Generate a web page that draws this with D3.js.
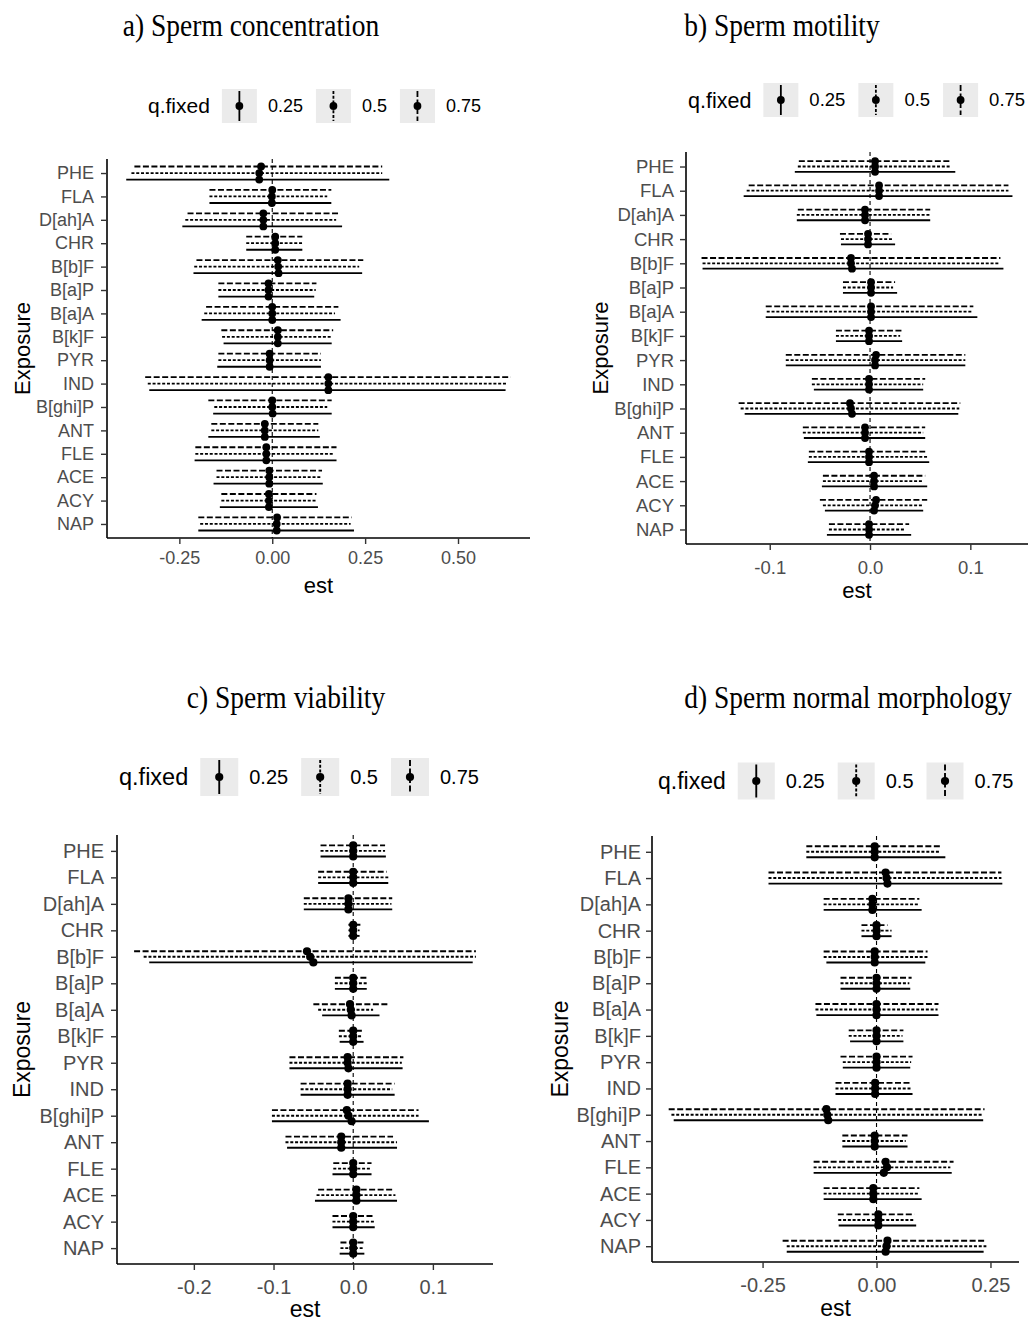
<!DOCTYPE html>
<html>
<head>
<meta charset="utf-8">
<script src="https://cdn.jsdelivr.net/npm/d3@7"></script>
<style>
  body { margin: 0; background: #fff; }
  svg { display: block; }
</style>
</head>
<body>
<svg id="chart" width="1028" height="1323"></svg>
<script>
// Exposures, listed from the top row of each panel to the bottom row
const exposures = ["PHE", "FLA", "D[ah]A", "CHR", "B[b]F", "B[a]P", "B[a]A", "B[k]F",
                   "PYR", "IND", "B[ghi]P", "ANT", "FLE", "ACE", "ACY", "NAP"];
const quantiles = ["0.25", "0.5", "0.75"];

// Each row: [lower, estimate, upper]

// a) Sperm concentration
const concQ25 = [[-0.393,-0.035,0.315],[-0.169,-0.001,0.159],[-0.242,-0.024,0.188],[-0.070,0.008,0.081],
                 [-0.212,0.017,0.242],[-0.145,-0.010,0.113],[-0.190,0.000,0.184],[-0.131,0.015,0.160],
                 [-0.148,-0.007,0.131],[-0.331,0.151,0.628],[-0.159,0.001,0.160],[-0.172,-0.020,0.128],
                 [-0.209,-0.016,0.173],[-0.158,-0.008,0.136],[-0.141,-0.009,0.123],[-0.199,0.012,0.220]];
const concQ50 = [[-0.379,-0.035,0.296],[-0.169,-0.001,0.148],[-0.234,-0.024,0.172],[-0.070,0.008,0.081],
                 [-0.210,0.016,0.234],[-0.145,-0.010,0.117],[-0.183,0.000,0.169],[-0.135,0.015,0.160],
                 [-0.145,-0.007,0.131],[-0.335,0.151,0.632],[-0.156,0.000,0.148],[-0.164,-0.020,0.124],
                 [-0.207,-0.016,0.167],[-0.150,-0.008,0.132],[-0.137,-0.009,0.119],[-0.194,0.012,0.211]];
const concQ75 = [[-0.371,-0.030,0.296],[-0.169,0.000,0.159],[-0.228,-0.024,0.178],[-0.070,0.008,0.081],
                 [-0.204,0.015,0.245],[-0.145,-0.010,0.119],[-0.178,0.000,0.178],[-0.137,0.015,0.164],
                 [-0.145,-0.007,0.131],[-0.342,0.151,0.642],[-0.172,0.000,0.160],[-0.164,-0.020,0.124],
                 [-0.207,-0.016,0.173],[-0.150,-0.008,0.134],[-0.137,-0.009,0.119],[-0.199,0.013,0.214]];

// b) Sperm motility
const motQ25 = [[-0.075,0.005,0.085],[-0.126,0.009,0.142],[-0.073,-0.005,0.060],[-0.029,-0.002,0.025],
                [-0.167,-0.018,0.133],[-0.027,0.001,0.027],[-0.104,0.001,0.107],[-0.034,-0.001,0.032],
                [-0.084,0.005,0.095],[-0.056,-0.001,0.053],[-0.125,-0.018,0.088],[-0.066,-0.005,0.055],
                [-0.062,-0.001,0.059],[-0.048,0.004,0.057],[-0.045,0.004,0.053],[-0.043,-0.001,0.041]];
const motQ50 = [[-0.072,0.005,0.081],[-0.123,0.009,0.138],[-0.073,-0.005,0.060],[-0.029,-0.002,0.023],
                [-0.167,-0.019,0.129],[-0.027,0.001,0.023],[-0.103,0.001,0.102],[-0.034,-0.001,0.030],
                [-0.084,0.005,0.095],[-0.058,-0.001,0.053],[-0.129,-0.019,0.089],[-0.067,-0.005,0.053],
                [-0.061,-0.001,0.058],[-0.047,0.004,0.053],[-0.047,0.005,0.053],[-0.041,-0.001,0.035]];
const motQ75 = [[-0.071,0.005,0.081],[-0.121,0.009,0.138],[-0.072,-0.005,0.060],[-0.030,-0.002,0.021],
                [-0.168,-0.019,0.130],[-0.027,0.001,0.025],[-0.104,0.001,0.103],[-0.034,-0.001,0.032],
                [-0.084,0.006,0.095],[-0.058,-0.001,0.055],[-0.131,-0.020,0.090],[-0.067,-0.005,0.055],
                [-0.061,-0.001,0.055],[-0.047,0.004,0.055],[-0.050,0.006,0.057],[-0.041,-0.001,0.039]];

// c) Sperm viability
const viaQ25 = [[-0.041,0.000,0.041],[-0.044,0.000,0.044],[-0.062,-0.006,0.049],[-0.006,0.000,0.008],
                [-0.256,-0.050,0.150],[-0.023,0.000,0.017],[-0.039,-0.002,0.033],[-0.017,0.000,0.013],
                [-0.080,-0.006,0.062],[-0.066,-0.007,0.052],[-0.102,-0.002,0.095],[-0.083,-0.015,0.055],
                [-0.026,0.000,0.023],[-0.048,0.004,0.055],[-0.026,0.000,0.027],[-0.017,0.000,0.014]];
const viaQ50 = [[-0.041,0.000,0.040],[-0.044,0.000,0.044],[-0.062,-0.006,0.048],[-0.006,0.000,0.008],
                [-0.263,-0.054,0.154],[-0.023,0.000,0.017],[-0.044,-0.003,0.025],[-0.018,0.000,0.012],
                [-0.080,-0.007,0.061],[-0.066,-0.007,0.049],[-0.102,-0.006,0.082],[-0.085,-0.015,0.055],
                [-0.025,0.000,0.023],[-0.046,0.004,0.053],[-0.026,0.000,0.027],[-0.016,0.000,0.014]];
const viaQ75 = [[-0.041,0.000,0.040],[-0.044,0.000,0.042],[-0.062,-0.006,0.049],[-0.006,0.000,0.009],
                [-0.275,-0.058,0.154],[-0.023,0.000,0.018],[-0.050,-0.004,0.043],[-0.018,0.000,0.013],
                [-0.080,-0.007,0.063],[-0.066,-0.007,0.052],[-0.102,-0.008,0.082],[-0.085,-0.015,0.050],
                [-0.025,0.000,0.023],[-0.044,0.004,0.050],[-0.026,0.000,0.027],[-0.016,0.000,0.014]];

// d) Sperm normal morphology
const morQ25 = [[-0.154,-0.004,0.151],[-0.237,0.024,0.276],[-0.116,-0.009,0.099],[-0.033,0.000,0.033],
                [-0.110,-0.004,0.107],[-0.079,0.000,0.074],[-0.132,0.000,0.136],[-0.058,0.000,0.059],
                [-0.074,0.000,0.074],[-0.090,-0.003,0.079],[-0.445,-0.106,0.234],[-0.075,-0.004,0.068],
                [-0.138,0.016,0.165],[-0.116,-0.007,0.099],[-0.083,0.004,0.087],[-0.197,0.020,0.235]];
const morQ50 = [[-0.154,-0.004,0.140],[-0.237,0.022,0.274],[-0.116,-0.009,0.094],[-0.033,0.000,0.033],
                [-0.116,-0.004,0.112],[-0.079,0.000,0.072],[-0.134,0.000,0.134],[-0.061,0.000,0.057],
                [-0.074,0.000,0.076],[-0.090,-0.003,0.077],[-0.450,-0.108,0.232],[-0.075,-0.004,0.064],
                [-0.138,0.023,0.162],[-0.116,-0.007,0.094],[-0.084,0.004,0.083],[-0.197,0.022,0.241]];
const morQ75 = [[-0.154,-0.004,0.140],[-0.237,0.020,0.274],[-0.116,-0.009,0.094],[-0.033,0.000,0.024],
                [-0.116,-0.004,0.112],[-0.079,0.000,0.077],[-0.134,0.000,0.136],[-0.061,0.000,0.059],
                [-0.079,0.000,0.079],[-0.090,-0.003,0.077],[-0.456,-0.110,0.237],[-0.075,-0.004,0.068],
                [-0.138,0.020,0.169],[-0.116,-0.007,0.094],[-0.085,0.004,0.083],[-0.206,0.024,0.241]];

// Axis break values for each panel
const concTicks = [-0.25, 0, 0.25, 0.5];
const motTicks  = [-0.1, 0, 0.1];
const viaTicks  = [-0.2, -0.1, 0, 0.1];
const morTicks  = [-0.25, 0, 0.25];

// Line type per quantile: solid, dotted, dashed
const dashFor = { "0.25": null, "0.5": "3,1.8", "0.75": "6,2.5" };
// Vertical dodge: 0.75 on top, 0.5 in the middle, 0.25 at the bottom
const dodgeFor = { "0.25": 1, "0.5": 0, "0.75": -1 };

const locale = d3.formatLocale({ decimal: ".", thousands: ",", grouping: [3], currency: ["", ""], minus: "-" });

const panels = [
  { title: "a) Sperm concentration", tx: 251, ty: 36, sets: [concQ25, concQ50, concQ75], ticks: concTicks, fmt: ".2f",
    left: 107, right: 530, top: 159, bottom: 538, tickFont: 18, axisFont: 22, dodge: 0.28, r: 3.9, lw: 1.8,
    xLabOff: 20, yLabPad: 7, yTitleX: 22, xTitleY: 585,
    legend: { x: 148, y: 106, titleFont: 21, labelFont: 18, keyW: 35, keyH: 34 } },
  { title: "b) Sperm motility", tx: 782, ty: 36, sets: [motQ25, motQ50, motQ75], ticks: motTicks, fmt: ".1f",
    left: 686, right: 1028, top: 152, bottom: 544, tickFont: 18.5, axisFont: 22, dodge: 0.22, r: 3.9, lw: 1.8,
    xLabOff: 24, yLabPad: 6, yTitleX: 600, xTitleY: 590,
    legend: { x: 688, y: 100, titleFont: 21.5, labelFont: 18.5, keyW: 35, keyH: 34 } },
  { title: "c) Sperm viability", tx: 286, ty: 708, sets: [viaQ25, viaQ50, viaQ75], ticks: viaTicks, fmt: ".1f",
    left: 117, right: 493, top: 835, bottom: 1264, tickFont: 20, axisFont: 23, dodge: 0.21, r: 4.1, lw: 1.9,
    xLabOff: 23, yLabPad: 7, yTitleX: 22, xTitleY: 1309,
    legend: { x: 119, y: 777, titleFont: 23.5, labelFont: 20, keyW: 38, keyH: 38 } },
  { title: "d) Sperm normal morphology", tx: 848, ty: 708, sets: [morQ25, morQ50, morQ75], ticks: morTicks, fmt: ".2f",
    left: 652, right: 1019, top: 836, bottom: 1262, tickFont: 20, axisFont: 23, dodge: 0.21, r: 4.1, lw: 1.9,
    xLabOff: 23, yLabPad: 5, yTitleX: 560, xTitleY: 1308,
    legend: { x: 658, y: 781, titleFont: 23, labelFont: 20, keyW: 37, keyH: 37 } }
];

const svg = d3.select("#chart");
const sans = "'Liberation Sans', Arial, Helvetica, sans-serif";
const serif = "'Liberation Serif', 'Times New Roman', serif";

panels.forEach(p => {
  const g = svg.append("g");

  // Rows of [exposure, quantile, lower, estimate, upper]
  const rows = [];
  p.sets.forEach((set, qi) => {
    set.forEach((v, i) => rows.push({ exp: exposures[i], q: quantiles[qi], lo: v[0], est: v[1], hi: v[2] }));
  });

  const lo = d3.min(rows, d => d.lo), hi = d3.max(rows, d => d.hi);
  const pad = (hi - lo) * 0.05;
  const x = d3.scaleLinear().domain([lo - pad, hi + pad]).range([p.left, p.right]);
  const y = d3.scalePoint().domain(exposures).range([p.top, p.bottom]).padding(0.6);
  const off = y.step() * p.dodge;
  const yy = d => y(d.exp) + dodgeFor[d.q] * off;

  // Panel title, set in a tall narrow serif
  svg.append("text").attr("transform", `translate(${p.tx},${p.ty}) scale(1,1.12)`).attr("text-anchor", "middle")
    .style("font-family", serif).style("font-size", "27.5px").attr("fill", "#000").text(p.title);

  // Reference line at zero
  g.append("line").attr("x1", x(0)).attr("x2", x(0)).attr("y1", p.top).attr("y2", p.bottom)
    .attr("stroke", "#000").attr("stroke-width", 1.1).attr("stroke-dasharray", "4,3");

  // Interval bars
  g.selectAll("line.bar").data(rows).join("line").attr("class", "bar")
    .attr("x1", d => x(d.lo)).attr("x2", d => x(d.hi))
    .attr("y1", yy).attr("y2", yy)
    .attr("stroke", "#000").attr("stroke-width", p.lw)
    .attr("stroke-dasharray", d => dashFor[d.q]);

  // Point estimates
  g.selectAll("circle.pt").data(rows).join("circle").attr("class", "pt")
    .attr("cx", d => x(d.est)).attr("cy", yy).attr("r", p.r).attr("fill", "#000");

  // Axes
  const fmt = locale.format(p.fmt);
  const xa = g.append("g").attr("transform", `translate(0,${p.bottom})`)
    .call(d3.axisBottom(x).tickValues(p.ticks).tickFormat(fmt).tickSizeOuter(0).tickSize(6).tickPadding(4));
  xa.select(".domain").attr("d", `M${p.left},0H${p.right}`).attr("stroke", "#000").attr("stroke-width", 1.6);
  xa.selectAll(".tick line").attr("stroke", "#333").attr("stroke-width", 1.4);
  xa.selectAll(".tick text").attr("y", p.xLabOff).attr("dy", "0.35em")
    .style("font-family", sans).style("font-size", p.tickFont + "px").attr("fill", "#4D4D4D");

  const ya = g.append("g").attr("transform", `translate(${p.left},0)`)
    .call(d3.axisLeft(y).tickSizeOuter(0).tickSize(6).tickPadding(p.yLabPad));
  ya.select(".domain").attr("d", `M0,${p.top}V${p.bottom}`).attr("stroke", "#000").attr("stroke-width", 1.6);
  ya.selectAll(".tick line").attr("stroke", "#333").attr("stroke-width", 1.4);
  ya.selectAll(".tick text").style("font-family", sans).style("font-size", p.tickFont + "px").attr("fill", "#4D4D4D");

  // Axis titles
  svg.append("text").attr("x", (p.left + p.right) / 2).attr("y", p.xTitleY).attr("dy", "0.35em")
    .attr("text-anchor", "middle").style("font-family", sans).style("font-size", p.axisFont + "px").text("est");
  svg.append("text").attr("transform", `translate(${p.yTitleX},${(p.top + p.bottom) / 2}) rotate(-90)`)
    .attr("dy", "0.35em").attr("text-anchor", "middle")
    .style("font-family", sans).style("font-size", p.axisFont + "px").text("Exposure");

  // Legend
  const L = p.legend;
  const lg = svg.append("g");
  let cx = L.x;
  const t = lg.append("text").attr("x", cx).attr("y", L.y).attr("dy", "0.35em")
    .style("font-family", sans).style("font-size", L.titleFont + "px").text("q.fixed");
  cx += t.node().getComputedTextLength() + 12;
  quantiles.forEach(q => {
    lg.append("rect").attr("x", cx).attr("y", L.y - L.keyH / 2).attr("width", L.keyW).attr("height", L.keyH).attr("fill", "#EBEBEB");
    lg.append("line").attr("x1", cx + L.keyW / 2).attr("x2", cx + L.keyW / 2)
      .attr("y1", L.y - L.keyH / 2 + 2).attr("y2", L.y + L.keyH / 2 - 2)
      .attr("stroke", "#000").attr("stroke-width", p.lw).attr("stroke-dasharray", dashFor[q]);
    lg.append("circle").attr("cx", cx + L.keyW / 2).attr("cy", L.y).attr("r", p.r).attr("fill", "#000");
    cx += L.keyW + 11;
    const lt = lg.append("text").attr("x", cx).attr("y", L.y).attr("dy", "0.35em")
      .style("font-family", sans).style("font-size", L.labelFont + "px").text(q);
    cx += lt.node().getComputedTextLength() + 13;
  });
});
</script>
</body>
</html>
